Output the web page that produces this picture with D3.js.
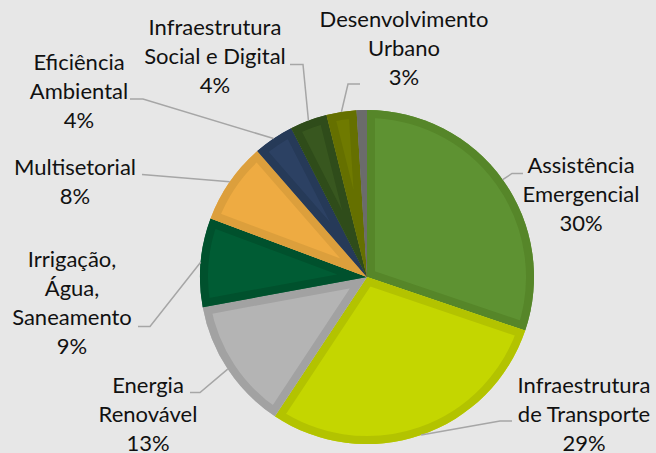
<!DOCTYPE html>
<html>
<head>
<meta charset="utf-8">
<script src="https://cdn.jsdelivr.net/npm/d3@7"></script>
<style>
  html, body { margin: 0; padding: 0; background: #e7e7e7; }
  svg { display: block; }
</style>
</head>
<body>
<svg id="chart"></svg>
<script>
(function() {

// data (share of total, %)
const categories = [
  "Assistência Emergencial",
  "Infraestrutura de Transporte",
  "Energia Renovável",
  "Irrigação, Água, Saneamento",
  "Multisetorial",
  "Eficiência Ambiental",
  "Infraestrutura Social e Digital",
  "Desenvolvimento Urbano",
  "Outros"
];
const values = [30.2, 29.1, 12.8, 8.6, 7.9, 3.9, 3.6, 2.9, 1.0];
const labelLines = [
  ["Assistência", "Emergencial"],
  ["Infraestrutura", "de Transporte"],
  ["Energia", "Renovável"],
  ["Irrigação,", "Água,", "Saneamento"],
  ["Multisetorial"],
  ["Eficiência", "Ambiental"],
  ["Infraestrutura", "Social e Digital"],
  ["Desenvolvimento", "Urbano"],
  null
];

const fills   = ["#5e9232", "#c4d600", "#b4b4b4", "#005c34", "#eeab42", "#2c4163", "#38571f", "#6f7a00", "#6b6b6b"];
const borders = ["#568629", "#b3c300", "#a2a2a2", "#00512d", "#dc9f3c", "#263a58", "#2f4c1a", "#657000", "#6b6b6b"];

// label placement: centre x, first baseline, leader knee and end of the short horizontal
const labelLayout = [
  { cx: 581, y: 173, kx: 512, ky: 173.5, ex: 523 },
  { cx: 584, y: 393, kx: 500, ky: 421, ex: 512 },
  { cx: 148, y: 393, kx: 200, ky: 392.5, ex: 190 },
  { cx: 72,  y: 267, kx: 150, ky: 326.5, ex: 138 },
  { cx: 75,  y: 175, kx: 142, ky: 174.5, ex: 142 },
  { cx: 79,  y: 70,  kx: 143, ky: 99, ex: 130 },
  { cx: 215, y: 35,  kx: 303, ky: 64.5, ex: 290 },
  { cx: 404, y: 27,  kx: 348, ky: 84, ex: 360 },
  null
];

const width = 656, height = 453;
const cx = 367, cy = 277, radius = 167;
const border = 8;
const lineGap = 29;

const svg = d3.select("#chart")
    .attr("width", width)
    .attr("height", height);

svg.append("rect")
    .attr("width", width)
    .attr("height", height)
    .attr("fill", "#e7e7e7");

const data = categories.map((c, i) => ({ name: c, value: values[i], i: i }));

const pie = d3.pie()
    .sort(null)
    .value(d => d.value);

const arcs = pie(data);

const arc = d3.arc().innerRadius(0).outerRadius(radius);
const rim = d3.arc().innerRadius(radius).outerRadius(radius);

const g = svg.append("g")
    .attr("transform", `translate(${cx},${cy})`);

const defs = svg.append("defs");

// clip paths so each slice gets an inner border
defs.selectAll("clipPath")
    .data(arcs)
    .join("clipPath")
    .attr("id", d => "clip" + d.data.i)
    .append("path")
    .attr("d", arc);

const slices = g.selectAll("g.slice")
    .data(arcs)
    .join("g")
    .attr("class", "slice");

slices.append("path")
    .attr("d", arc)
    .attr("fill", d => fills[d.data.i]);

slices.append("path")
    .attr("d", arc)
    .attr("fill", "none")
    .attr("stroke", d => borders[d.data.i])
    .attr("stroke-width", border * 2)
    .attr("stroke-linejoin", "miter")
    .attr("clip-path", d => `url(#clip${d.data.i})`);

// leader lines
const labelled = arcs.filter(d => labelLayout[d.data.i]);

svg.selectAll("polyline.leader")
    .data(labelled)
    .join("polyline")
    .attr("class", "leader")
    .attr("fill", "none")
    .attr("stroke", "#a6a6a6")
    .attr("stroke-width", 1.5)
    .attr("points", d => {
        const p = rim.centroid(d);
        const L = labelLayout[d.data.i];
        return [[p[0] + cx, p[1] + cy], [L.kx, L.ky], [L.ex, L.ky]].map(q => q.join(",")).join(" ");
    });

// labels
const fmt = v => Math.round(v) + "%";

const texts = svg.selectAll("text.lbl")
    .data(labelled)
    .join("text")
    .attr("class", "lbl")
    .attr("text-anchor", "middle")
    .attr("font-family", "Lato, 'Noto Sans', sans-serif")
    .attr("font-size", 22)
    .attr("fill", "#111");

texts.each(function(d) {
    const L = labelLayout[d.data.i];
    const lines = labelLines[d.data.i].concat([fmt(d.data.value)]);
    d3.select(this).selectAll("tspan")
        .data(lines)
        .join("tspan")
        .attr("x", L.cx)
        .attr("y", (t, j) => L.y + j * lineGap)
        .text(t => t);
});

})();
</script>
</body>
</html>
